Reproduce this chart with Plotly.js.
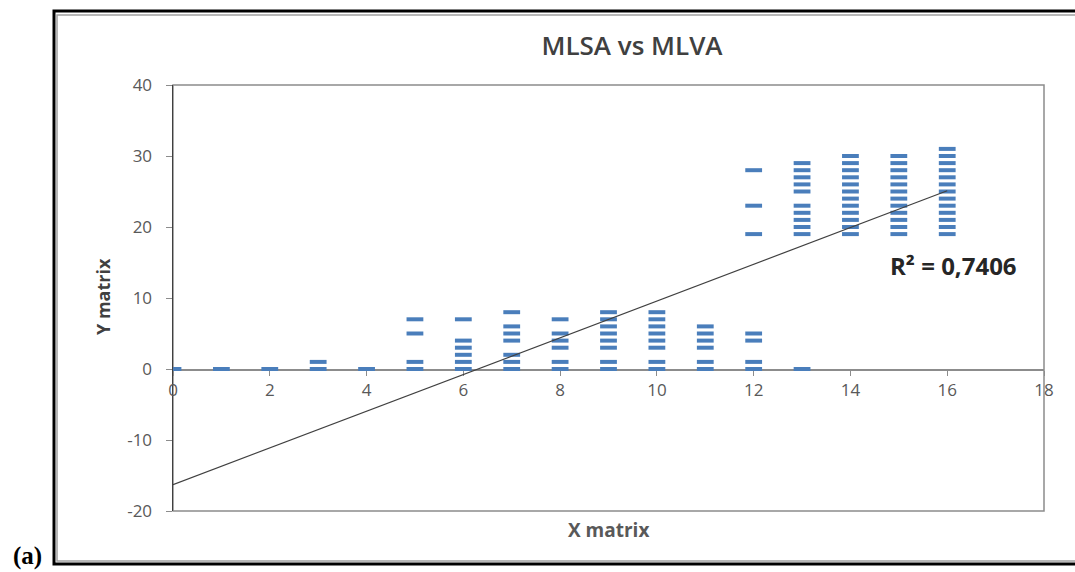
<!DOCTYPE html>
<html>
<head>
<meta charset="utf-8">
<script src="https://cdn.plot.ly/plotly-3.0.1.min.js"></script>
<style>
  html, body { margin: 0; padding: 0; background: #ffffff; }
  #chart { width: 1075px; height: 572px; }
</style>
</head>
<body>
<div id="chart"></div>
<script>
// ---- Data ----
const columnX = [0, 1, 2, 3, 4, 5, 6, 7, 8, 9, 10, 11, 12, 13, 14, 15, 16];
const columnY = [
  [0],
  [0],
  [0],
  [0, 1],
  [0],
  [0, 1, 5, 7],
  [0, 1, 2, 3, 4, 7],
  [0, 1, 2, 4, 5, 6, 8],
  [0, 1, 3, 4, 5, 7],
  [0, 1, 3, 4, 5, 6, 7, 8],
  [0, 1, 3, 4, 5, 6, 7, 8],
  [0, 1, 3, 4, 5, 6],
  [0, 1, 4, 5, 19, 23, 28],
  [0, 19, 20, 21, 22, 23, 25, 26, 27, 28, 29],
  [19, 20, 21, 22, 23, 24, 25, 26, 27, 28, 29, 30],
  [19, 20, 21, 22, 23, 24, 25, 26, 27, 28, 29, 30],
  [19, 20, 21, 22, 23, 24, 25, 26, 27, 28, 29, 30, 31]
];
const trendX = [0, 16];
const trendY = [-16.3, 25.1];
const xTicks = [0, 2, 4, 6, 8, 10, 12, 14, 16, 18];
const yTicks = [-20, -10, 0, 10, 20, 30, 40];
const chartTitle = 'MLSA vs MLVA';
const xTitle = 'X matrix';
const yTitle = 'Y matrix';
const r2Label = 'R² = 0,7406';
const panelLabel = '(a)';

// flatten points
const ptsX = [], ptsY = [];
columnX.forEach((x, i) => columnY[i].forEach(y => { ptsX.push(x); ptsY.push(y); }));

const blue = '#4a7ebb';
const tickColor = '#595959';

const traces = [
  {
    x: ptsX, y: ptsY, type: 'scatter', mode: 'markers',
    marker: { symbol: 'line-ew', size: 12, color: blue, line: { width: 4, color: blue } },
    hoverinfo: 'x+y', showlegend: false
  },
  {
    x: trendX, y: trendY, type: 'scatter', mode: 'lines',
    line: { color: '#404040', width: 1.2 },
    hoverinfo: 'skip', showlegend: false
  }
];

const layout = {
  width: 1075, height: 572,
  margin: { l: 173, r: 31, t: 85, b: 61, pad: 0 },
  paper_bgcolor: '#ffffff', plot_bgcolor: '#ffffff',
  showlegend: false,
  font: { family: 'Open Sans, sans-serif', color: tickColor },
  title: {
    text: chartTitle,
    x: 0.527, xanchor: 'center', xref: 'paper',
    y: 1 - 46 / 572, yanchor: 'middle', yref: 'container',
    font: { family: 'Open Sans, sans-serif', size: 26, color: '#404040', weight: 600 }
  },
  xaxis: {
    range: [0, 18], tickvals: xTicks, ticktext: xTicks.map(String),
    anchor: 'free', position: 1 / 3,
    showline: true, linecolor: '#8c8c8c', linewidth: 1.5,
    ticks: 'outside', ticklen: 5, tickcolor: '#8c8c8c',
    showgrid: false, zeroline: false, layer: 'below traces',
    tickfont: { family: 'Open Sans, sans-serif', size: 17, color: tickColor },
    fixedrange: true
  },
  yaxis: {
    range: [-20, 40], tickvals: yTicks, ticktext: yTicks.map(String),
    showline: true, linecolor: '#404040', linewidth: 1.5,
    ticks: 'outside', ticklen: 6, tickcolor: '#8c8c8c',
    ticklabelstandoff: 10,
    showgrid: false, zeroline: false, layer: 'below traces',
    tickfont: { family: 'Open Sans, sans-serif', size: 17, color: tickColor },
    fixedrange: true
  },
  shapes: [
    // plot-area box
    { type: 'rect', xref: 'paper', yref: 'paper', x0: 0, x1: 1, y0: 0, y1: 1,
      line: { color: '#8c8c8c', width: 1.5 }, layer: 'below' },
    // outer figure frame (grey inner shadow + black border)
    { type: 'rect', xref: 'paper', yref: 'paper',
      x0: (57 - 173) / 871, x1: (1085 - 173) / 871,
      y0: (511 - 561) / 426, y1: (511 - 15) / 426,
      line: { color: '#a0a0a0', width: 1.5 }, layer: 'below' },
    { type: 'rect', xref: 'paper', yref: 'paper',
      x0: (54 - 173) / 871, x1: (1085 - 173) / 871,
      y0: (511 - 564) / 426, y1: (511 - 11) / 426,
      line: { color: '#000000', width: 3 }, layer: 'below' }
  ],
  annotations: [
    { text: xTitle, xref: 'paper', yref: 'paper', x: 0.5, y: (511 - 530) / 426,
      xanchor: 'center', yanchor: 'middle', showarrow: false,
      font: { family: 'Open Sans, sans-serif', size: 19, color: tickColor, weight: 'bold' } },
    { text: yTitle, xref: 'paper', yref: 'paper', x: (103 - 173) / 871, y: (511 - 297) / 426,
      xanchor: 'center', yanchor: 'middle', showarrow: false, textangle: -90,
      font: { family: 'Open Sans, sans-serif', size: 18, color: '#404040', weight: 'bold' } },
    { text: r2Label, xref: 'paper', yref: 'paper', x: (888 - 173) / 871, y: (511 - 265) / 426,
      xanchor: 'left', yanchor: 'middle', showarrow: false,
      font: { family: 'Open Sans, sans-serif', size: 24, color: '#262626', weight: 'bold' } },
    { text: panelLabel, xref: 'paper', yref: 'paper', x: (27 - 173) / 871, y: (511 - 556) / 426,
      xanchor: 'center', yanchor: 'middle', showarrow: false,
      font: { family: 'Liberation Serif, serif', size: 25, color: '#000000', weight: 'bold' } }
  ]
};

Plotly.newPlot('chart', traces, layout, { displayModeBar: false, staticPlot: true });
</script>
</body>
</html>
